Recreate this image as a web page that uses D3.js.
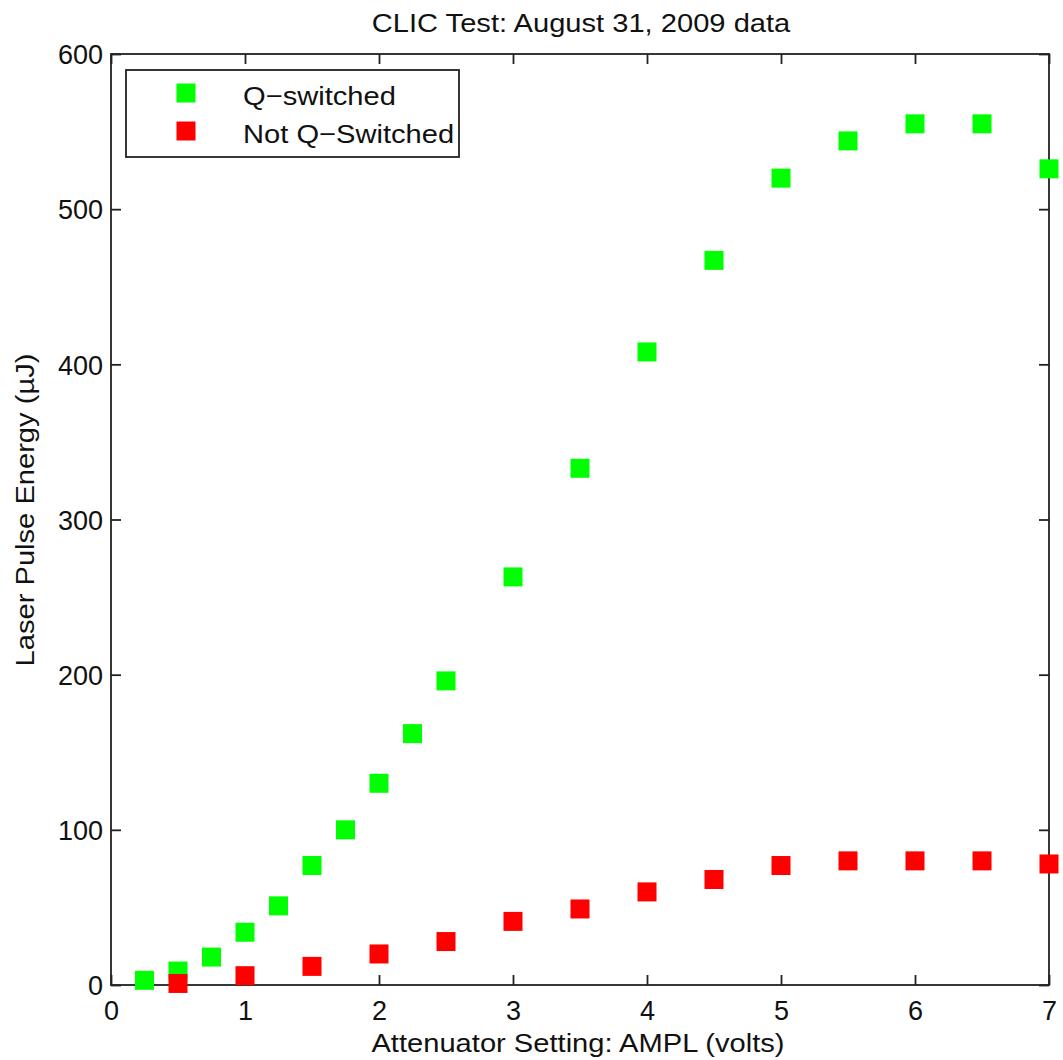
<!DOCTYPE html>
<html>
<head>
<meta charset="utf-8">
<script src="https://cdn.jsdelivr.net/npm/d3@7"></script>
<style>
  body { margin: 0; background: #fff; }
  text { font-family: "Liberation Sans", Arial, sans-serif; fill: #111; }
</style>
</head>
<body>
<script>
// data
var qsX = [0.25, 0.5, 0.75, 1, 1.25, 1.5, 1.75, 2, 2.25, 2.5, 3, 3.5, 4, 4.5, 5, 5.5, 6, 6.5, 7];
var qsY = [3, 9, 18, 34, 51, 77, 100, 130, 162, 196, 263, 333, 408, 467, 520, 544, 555, 555, 526];
var nqsX = [0.5, 1, 1.5, 2, 2.5, 3, 3.5, 4, 4.5, 5, 5.5, 6, 6.5, 7];
var nqsY = [1, 6, 12, 20, 28, 41, 49, 60, 68, 77, 80, 80, 80, 78];
var xTicks = [0, 1, 2, 3, 4, 5, 6, 7];
var yTicks = [0, 100, 200, 300, 400, 500, 600];

var W = 1063, H = 1060;
var margin = { top: 54, right: 14, bottom: 75, left: 111 };
var width = W - margin.left - margin.right;
var height = H - margin.top - margin.bottom;
var stretch = 1.12; // the original font runs a bit wide

var svg = d3.select("body").append("svg")
    .attr("width", W)
    .attr("height", H);

var g = svg.append("g")
    .attr("transform", "translate(" + margin.left + "," + margin.top + ")");

var x = d3.scaleLinear().domain([0, 7]).range([0, width]);
var y = d3.scaleLinear().domain([0, 600]).range([height, 0]);

// frame
g.append("rect")
    .attr("width", width).attr("height", height)
    .attr("fill", "none").attr("stroke", "#222").attr("stroke-width", 1.8);

// bottom / left axes with inward ticks, plus mirrored ticks on top / right
var xAxis = g.append("g").attr("transform", "translate(0," + height + ")")
    .call(d3.axisBottom(x).tickValues(xTicks).tickSize(-10).tickPadding(15).tickFormat(d3.format("d")));
var xTop = g.append("g")
    .call(d3.axisTop(x).tickValues(xTicks).tickSize(-10).tickFormat(""));
var yAxis = g.append("g")
    .call(d3.axisLeft(y).tickValues(yTicks).tickSize(-10).tickPadding(8).tickFormat(d3.format("d")));
var yRight = g.append("g").attr("transform", "translate(" + width + ",0)")
    .call(d3.axisRight(y).tickValues(yTicks).tickSize(-10).tickFormat(""));

[xAxis, xTop, yAxis, yRight].forEach(function (a) {
    a.select(".domain").remove();
    a.selectAll("line").attr("stroke", "#222").attr("stroke-width", 1.8);
    a.selectAll("text").style("font-size", "27px").attr("fill", "#111");
});
xAxis.selectAll("text").attr("dy", "0.74em");
yAxis.selectAll("text").attr("dy", "0.36em");

// titles
svg.append("text")
    .attr("transform", "translate(581,32) scale(" + stretch + ",1)")
    .attr("text-anchor", "middle").style("font-size", "26px")
    .text("CLIC Test: August 31, 2009 data");

svg.append("text")
    .attr("transform", "translate(578,1052) scale(" + stretch + ",1)")
    .attr("text-anchor", "middle").style("font-size", "26px")
    .text("Attenuator Setting: AMPL (volts)");

svg.append("text")
    .attr("transform", "translate(34,510) rotate(-90) scale(" + stretch + ",1)")
    .attr("text-anchor", "middle").style("font-size", "26px")
    .text("Laser Pulse Energy (\u00b5J)");

// markers
var s = 19;
function drawSeries(xs, ys, color) {
    g.append("g").selectAll("rect")
        .data(xs.map(function (d, i) { return { x: d, y: ys[i] }; }))
        .enter().append("rect")
        .attr("x", function (d) { return x(d.x) - s / 2; })
        .attr("y", function (d) { return y(d.y) - s / 2; })
        .attr("width", s).attr("height", s)
        .attr("fill", color);
}
drawSeries(qsX, qsY, "#00ff00");
drawSeries(nqsX, nqsY, "#ff0000");

// legend
var legend = g.append("g").attr("transform", "translate(15,16)");
legend.append("rect")
    .attr("width", 333).attr("height", 87)
    .attr("fill", "#fff").attr("stroke", "#222").attr("stroke-width", 1.8);
var items = [{ label: "Q\u2212switched", color: "#00ff00" }, { label: "Not Q\u2212Switched", color: "#ff0000" }];
items.forEach(function (it, i) {
    var cy = 23 + i * 38;
    legend.append("rect")
        .attr("x", 60 - s / 2).attr("y", cy - s / 2)
        .attr("width", s).attr("height", s).attr("fill", it.color);
    legend.append("text")
        .attr("transform", "translate(117," + (cy + 12) + ") scale(" + stretch + ",1)")
        .style("font-size", "26px").text(it.label);
});
</script>
</body>
</html>
